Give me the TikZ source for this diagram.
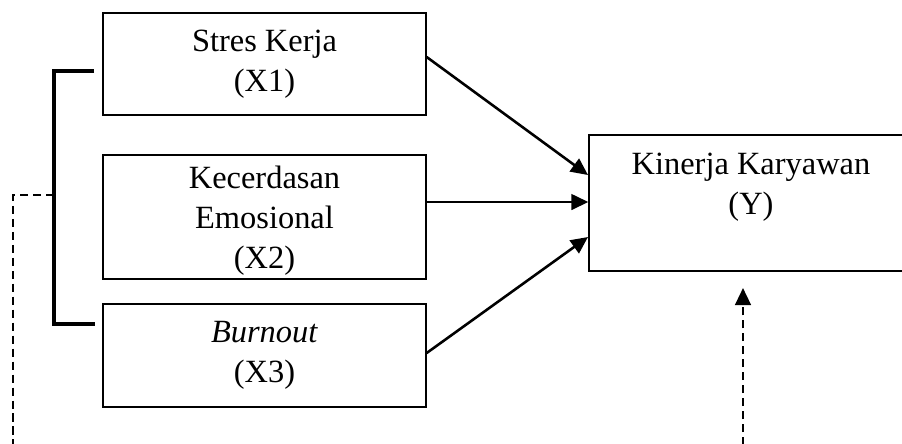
\documentclass[tikz,border=0pt]{standalone}
\usepackage{fontspec}
\setmainfont{Liberation Serif}
\usetikzlibrary{arrows.meta}
\begin{document}
\begin{tikzpicture}[x=0.37pt,y=-0.37pt,
  varbox/.style={draw, line width=0.5pt, inner sep=0pt, align=center,
    font=\fontsize{12pt}{14.8pt}\selectfont},
  tipstyle/.style={-{Triangle[length=6.3pt,width=5.8pt]}},
  conn/.style={line width=0.95pt, tipstyle},
  brk/.style={line width=1.3pt},
  dsh/.style={line width=0.9pt, dash pattern=on 3pt off 1.8pt},
  lbl/.style={align=center, inner sep=0pt, font=\fontsize{12pt}{14.8pt}\selectfont}]
\useasboundingbox (0,0) rectangle (902,443);
\node[varbox, minimum width=323*0.37pt, minimum height=102*0.37pt] (X1) at (264.5,64) {Stres Kerja\\(X1)};
\node[varbox, minimum width=323*0.37pt, minimum height=124*0.37pt] (X2) at (264.5,217) {};
\node[lbl] (X2text) at (264.5,221) {Kecerdasan\\Emosional\\(X2)};
\node[varbox, minimum width=323*0.37pt, minimum height=103*0.37pt] (X3) at (264.5,355.5) {\textit{Burnout}\\(X3)};
\node[varbox, minimum width=317*0.37pt, minimum height=136*0.37pt] (Y) at (747.5,203) {};
\node[lbl] (Ytext) at (751,187) {Kinerja Karyawan\\(Y)};
% arrows
\coordinate (y1) at (588,175);
\coordinate (y3) at (588,237);
\draw[conn] (X1.east |- 0,57) -- (y1);
\draw[conn] (X2.east |- 0,202) -- (Y.west |- 0,202);
\draw[conn] (X3.east |- 0,353) -- (y3);
% bracket
\coordinate (bt) at (94,71);
\coordinate (btl) at (54,71);
\coordinate (bbl) at (54,324);
\coordinate (bb) at (95,324);
\coordinate (bm) at (54,195);
\draw[brk] (bt) -- (btl) -- (bbl) -- (bb);
% dashed lines
\coordinate (dl) at (13,195);
\coordinate (dlb) at (13,445);
\draw[dsh] (bm) -- (dl) -- (dlb);
\coordinate (dyb) at (743,445);
\coordinate (dyt) at (743,288);
\draw[dsh, tipstyle] (dyb) -- (dyt);
\end{tikzpicture}
\end{document}
